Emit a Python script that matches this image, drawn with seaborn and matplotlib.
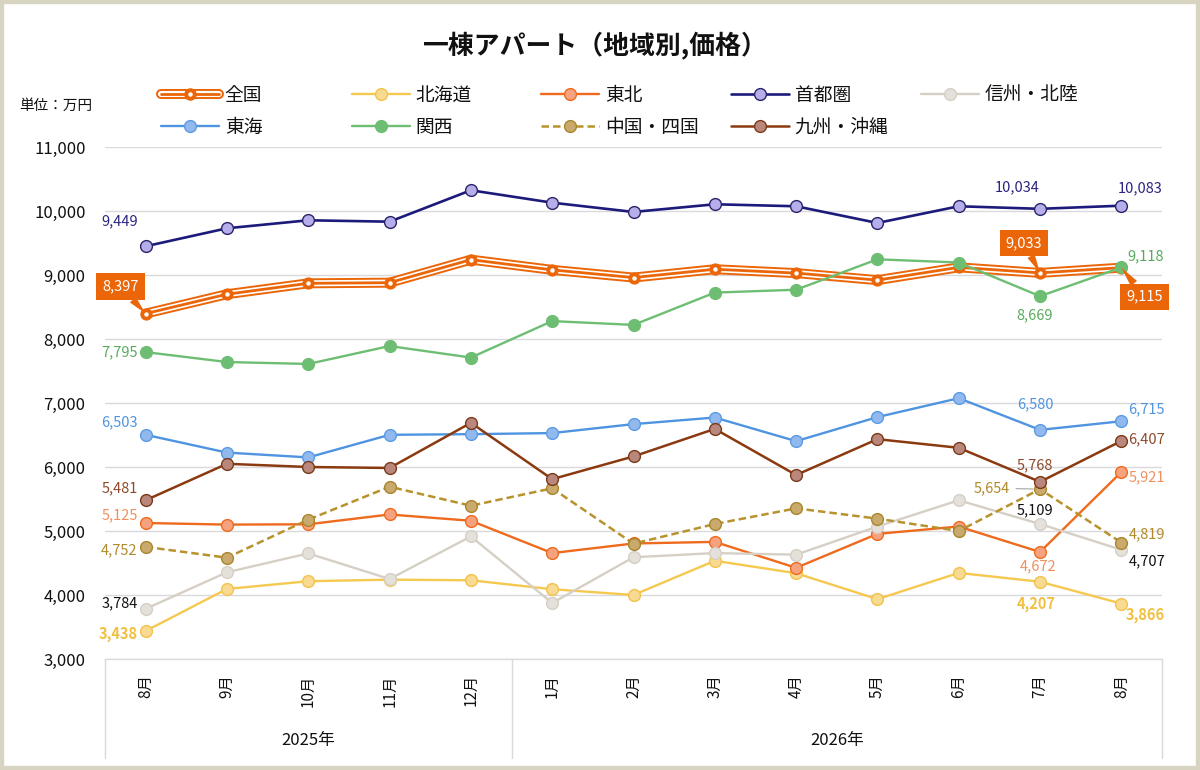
import matplotlib
matplotlib.use("Agg")
import matplotlib.pyplot as plt
import matplotlib.transforms as mtrans
from matplotlib.lines import Line2D
from matplotlib.legend_handler import HandlerTuple
from matplotlib.patches import Rectangle
import seaborn as sns
import pandas as pd
import numpy as np

# ---------------- data ----------------
months = ["8月", "9月", "10月", "11月", "12月", "1月", "2月", "3月", "4月", "5月", "6月", "7月", "8月"]
years = ["2025年", "2026年"]
year_span = [(0, 4), (5, 12)]

zenkoku = [8397, 8700, 8870, 8880, 9240, 9080, 8960, 9090, 9030, 8920, 9120, 9033, 9115]
hokkaido = [3438, 4095, 4215, 4240, 4230, 4090, 4000, 4535, 4340, 3935, 4345, 4207, 3866]
tohoku = [5125, 5100, 5105, 5258, 5160, 4655, 4805, 4830, 4425, 4955, 5070, 4672, 5921]
shutoken = [9449, 9730, 9855, 9833, 10324, 10130, 9985, 10105, 10074, 9813, 10074, 10034, 10083]
shinshu = [3784, 4355, 4650, 4250, 4915, 3875, 4590, 4655, 4630, 5070, 5480, 5109, 4707]
tokai = [6503, 6225, 6150, 6503, 6513, 6530, 6670, 6773, 6404, 6780, 7075, 6580, 6715]
kansai = [7795, 7640, 7610, 7890, 7710, 8280, 8220, 8725, 8770, 9245, 9195, 8669, 9118]
chugoku = [4752, 4583, 5177, 5692, 5395, 5667, 4802, 5109, 5354, 5193, 5000, 5654, 4819]
kyushu = [5481, 6050, 6000, 5985, 6690, 5810, 6165, 6595, 5875, 6435, 6300, 5768, 6407]

names = ["全国", "北海道", "東北", "首都圏", "信州・北陸", "東海", "関西", "中国・四国", "九州・沖縄"]
values = [zenkoku, hokkaido, tohoku, shutoken, shinshu, tokai, kansai, chugoku, kyushu]

# ---------------- style ----------------
sns.set_theme(style="white")
plt.rcParams["font.family"] = ["Noto Sans CJK JP", "DejaVu Sans"]

ORANGE = "#EB6608"
styles = {
    "北海道": dict(color="#F5C850", mfc="#F8DA92", mec="#F2C34A", ls="-", lw=1.7, lab="#F2C040", bold=True),
    "東北": dict(color="#EE6A1D", mfc="#F7A27E", mec="#EE6A1D", ls="-", lw=1.7, lab="#F0905E", bold=False),
    "首都圏": dict(color="#1C1A7A", mfc="#B5AEEA", mec="#2A2468", ls="-", lw=1.9, lab="#2A2480", bold=False),
    "信州・北陸": dict(color="#D6CFC6", mfc="#E4E0DA", mec="#D6CFC6", ls="-", lw=1.7, lab="#111111", bold=False),
    "東海": dict(color="#4F94E0", mfc="#91B9EE", mec="#5A9BE5", ls="-", lw=1.7, lab="#4F94E0", bold=False),
    "関西": dict(color="#6DBE72", mfc="#6DBE72", mec="#6DBE72", ls="-", lw=1.7, lab="#58AA5C", bold=False),
    "中国・四国": dict(color="#B8922C", mfc="#C9AA6C", mec="#A8862C", ls=(0, (3, 1.6)), lw=1.8, lab="#B08A2A", bold=False),
    "九州・沖縄": dict(color="#8B3A10", mfc="#B9877C", mec="#7A3A1A", ls="-", lw=1.8, lab="#8E4A2A", bold=False),
}

W, H = 1200, 770
fig = plt.figure(figsize=(12, 7.7), dpi=100)
fig.patch.set_facecolor("white")
ax = fig.add_axes([105 / W, 1 - 659 / H, (1162 - 105) / W, 512 / H])
ax.set_facecolor("white")

x = np.arange(len(months))

# 全国 triple line
df0 = pd.DataFrame({"x": x, "y": zenkoku})
sns.lineplot(data=df0, x="x", y="y", ax=ax, color=ORANGE, lw=7.2, legend=False, zorder=3,
             solid_joinstyle="miter")
sns.lineplot(data=df0, x="x", y="y", ax=ax, color="white", lw=4.4, legend=False, zorder=3.1,
             solid_joinstyle="miter")
sns.lineplot(data=df0, x="x", y="y", ax=ax, color=ORANGE, lw=2.0, legend=False, zorder=3.2,
             marker="o", markersize=8, markerfacecolor=ORANGE, markeredgecolor=ORANGE,
             markeredgewidth=0.8)
ax.plot(x, zenkoku, ls="none", marker="o", markersize=2.2, color="white", zorder=3.3)

z = 4
for name, vals in zip(names[1:], values[1:]):
    st = styles[name]
    df = pd.DataFrame({"x": x, "y": vals})
    sns.lineplot(data=df, x="x", y="y", ax=ax, color=st["color"], lw=st["lw"], linestyle=st["ls"],
                 marker="o", markersize=8.5, markerfacecolor=st["mfc"], markeredgecolor=st["mec"],
                 markeredgewidth=1.0, legend=False, zorder=z)
    z += 0.1

# axes setup
ax.set_xlim(-0.5, 12.5)
ax.set_ylim(3000, 11000)
yt = np.arange(3000, 11001, 1000)
ax.set_yticks(yt)
ax.set_yticklabels([f"{v:,}" for v in yt], fontsize=12, color="#111111")
ax.set_xticks(x)
ax.set_xticklabels(months, rotation=90, fontsize=11, color="#111111", va="top")
ax.tick_params(axis="y", length=0, pad=14)
ax.tick_params(axis="x", length=0, pad=11)
ax.set_xlabel("")
ax.set_ylabel("")
ax.grid(axis="y", color="#D9D9DE", lw=1.0)
ax.grid(axis="x", visible=False)
for s in ["top", "right", "left"]:
    ax.spines[s].set_visible(False)
ax.spines["bottom"].set_color("#D9D9DE")
ax.spines["bottom"].set_linewidth(1.0)

# category group separators and year labels
trans = mtrans.blended_transform_factory(ax.transData, ax.transAxes)
ybot = (659 - 758) / 512
for xs in [-0.5, 4.5, 12.5]:
    ax.plot([xs, xs], [0, ybot], transform=trans, color="#D9D9DE", lw=1.0, clip_on=False)
for yr, (a, b) in zip(years, year_span):
    ax.text((a + b) / 2, (659 - 741) / 512, yr, transform=trans, ha="center", va="center",
            fontsize=12, color="#111111")

# data labels: (series, index, dx, dy, ha)
labels = [
    ("首都圏", 0, -8, 25, "right"), ("首都圏", 11, -23, 22, "center"), ("首都圏", 12, 19, 17, "center"),
    ("関西", 0, -8, 0, "right"), ("関西", 11, -5, -19, "center"), ("関西", 12, 6, 11, "left"),
    ("東海", 0, -8, 13, "right"), ("東海", 11, -5, 26, "center"), ("東海", 12, 7, 12, "left"),
    ("九州・沖縄", 0, -8, 12, "right"), ("九州・沖縄", 11, -5, 17, "center"), ("九州・沖縄", 12, 7, 2, "left"),
    ("東北", 0, -8, 8, "right"), ("東北", 11, -2, -14, "center"), ("東北", 12, 7, -5, "left"),
    ("中国・四国", 0, -8, -3, "right"), ("中国・四国", 12, 7, 8, "left"),
    ("信州・北陸", 0, -8, 6, "right"), ("信州・北陸", 11, -5, 14, "center"), ("信州・北陸", 12, 7, -12, "left"),
    ("北海道", 0, -8, -3, "right"), ("北海道", 11, -4, -22, "center"), ("北海道", 12, 4, -11, "left"),
]
lookup = dict(zip(names, values))
for name, i, dx, dy, ha in labels:
    st = styles[name]
    v = lookup[name][i]
    ax.annotate(f"{v:,}", xy=(i, v), xytext=(dx, dy), textcoords="offset pixels", ha=ha, va="center",
                fontsize=10.5, color=st["lab"], fontweight="bold" if st["bold"] else "normal", zorder=10)

# 中国・四国 7月 label with leader line
v = chugoku[11]
ax.annotate(f"{v:,}", xy=(11, v), xytext=(-30, 1), textcoords="offset pixels", ha="right", va="center",
            fontsize=10.5, color=styles["中国・四国"]["lab"], zorder=10,
            arrowprops=dict(arrowstyle="-", color="#A6A6A6", lw=0.8, shrinkA=2, shrinkB=5))

# 全国 callout boxes
for i, dx, dy in [(0, -25, 27), (11, -16, 30), (12, 23, -29)]:
    v = zenkoku[i]
    ax.annotate(f"{v:,}", xy=(i, v), xytext=(dx, dy), textcoords="offset pixels", ha="center", va="center",
                fontsize=10.5, color="white", zorder=12,
                bbox=dict(boxstyle="square,pad=0.42", fc=ORANGE, ec="none"),
                arrowprops=dict(arrowstyle="wedge,tail_width=0.55,shrink_factor=0.5", fc=ORANGE, ec="none",
                                shrinkA=0, shrinkB=0))

# legend (one legend per column to keep fixed column spacing)
def handle_for(name):
    if name == "全国":
        return (Line2D([], [], color=ORANGE, lw=7.2),
                Line2D([], [], color="white", lw=4.4),
                Line2D([], [], color=ORANGE, lw=2.0, marker="o", markersize=8, mfc=ORANGE, mec=ORANGE),
                Line2D([], [], ls="none", marker="o", markersize=2.2, color="white"))
    st = styles[name]
    return Line2D([], [], color=st["color"], lw=st["lw"], ls=st["ls"], marker="o", markersize=8.5,
                  mfc=st["mfc"], mec=st["mec"], mew=1.0)

columns = [["全国", "東海"], ["北海道", "関西"], ["東北", "中国・四国"], ["首都圏", "九州・沖縄"], ["信州・北陸"]]
col_x = [161, 352, 541, 731, 921]
for cx, col in zip(col_x, columns):
    leg = fig.legend([handle_for(n) for n in col], col, loc="upper left",
                     bbox_to_anchor=(cx / W, 1 - 85 / H), frameon=False, fontsize=13.5,
                     handlelength=3.1, handletextpad=0.3, borderpad=0, borderaxespad=0,
                     labelspacing=0.58, handler_map={tuple: HandlerTuple(ndivide=1)})
    for t in leg.get_texts():
        t.set_color("#111111")

# title and unit
fig.text(594 / W, 1 - 46 / H, "一棟アパート（地域別,価格）", ha="center", va="center", fontsize=18.6,
         fontweight="bold", color="#111111")
fig.text(19 / W, 1 - 106 / H, "単位：万円", ha="left", va="center", fontsize=10.5, color="#111111")

# figure frame
fig.patches.append(Rectangle((0, 0), 1, 1, transform=fig.transFigure, fill=False,
                             ec="#D8D4C2", lw=6, zorder=100))

fig.savefig("out.png", dpi=100, facecolor="white")
